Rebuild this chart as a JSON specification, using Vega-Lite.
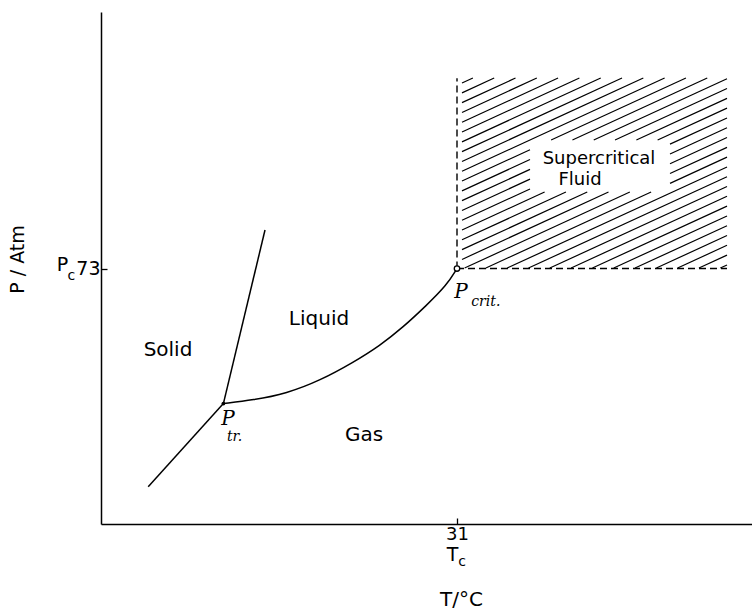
{
  "$schema": "https://vega.github.io/schema/vega-lite/v6.json",
  "width": 651,
  "height": 512,
  "autosize": {"type": "none"},
  "padding": {"left": 101, "top": 12, "right": 0, "bottom": 87},
  "background": "white",
  "config": {
    "view": {"stroke": null},
    "font": "DejaVu Sans",
    "axis": {
      "grid": false,
      "domainColor": "black",
      "domainWidth": 1.5,
      "tickColor": "black",
      "tickWidth": 1.3,
      "labelColor": "black",
      "titleColor": "black",
      "labelFont": "DejaVu Sans",
      "titleFont": "DejaVu Sans",
      "titleFontWeight": "normal"
    }
  },
  "datasets": {
    "hatch": [
      {"t1": 32.25, "p1": 126.0, "t2": 34.97, "p2": 127.43},
      {"t1": 32.25, "p1": 123.2, "t2": 40.29, "p2": 127.43},
      {"t1": 32.25, "p1": 120.4, "t2": 45.62, "p2": 127.43},
      {"t1": 32.25, "p1": 117.6, "t2": 50.95, "p2": 127.43},
      {"t1": 32.25, "p1": 114.8, "t2": 56.27, "p2": 127.43},
      {"t1": 32.25, "p1": 112.0, "t2": 61.6, "p2": 127.43},
      {"t1": 32.25, "p1": 109.2, "t2": 66.93, "p2": 127.43},
      {"t1": 32.25, "p1": 106.4, "t2": 72.25, "p2": 127.43},
      {"t1": 32.25, "p1": 103.6, "t2": 77.58, "p2": 127.43},
      {"t1": 32.25, "p1": 100.8, "t2": 82.9, "p2": 127.43},
      {"t1": 32.25, "p1": 98.0, "t2": 49.25, "p2": 106.94},
      {"t1": 54.53, "p1": 109.71, "t2": 88.23, "p2": 127.43},
      {"t1": 32.25, "p1": 95.2, "t2": 49.25, "p2": 104.14},
      {"t1": 59.86, "p1": 109.71, "t2": 93.56, "p2": 127.43},
      {"t1": 32.25, "p1": 92.4, "t2": 49.25, "p2": 101.34},
      {"t1": 65.19, "p1": 109.71, "t2": 98.5, "p2": 127.23},
      {"t1": 32.25, "p1": 89.6, "t2": 49.25, "p2": 98.54},
      {"t1": 70.51, "p1": 109.71, "t2": 98.5, "p2": 124.43},
      {"t1": 32.25, "p1": 86.8, "t2": 49.25, "p2": 95.74},
      {"t1": 75.84, "p1": 109.71, "t2": 98.5, "p2": 121.63},
      {"t1": 32.25, "p1": 84.0, "t2": 52.9, "p2": 94.86},
      {"t1": 81.16, "p1": 109.71, "t2": 98.5, "p2": 118.83},
      {"t1": 32.25, "p1": 81.2, "t2": 58.23, "p2": 94.86},
      {"t1": 84.25, "p1": 108.54, "t2": 98.5, "p2": 116.03},
      {"t1": 32.25, "p1": 78.4, "t2": 63.56, "p2": 94.86},
      {"t1": 84.25, "p1": 105.74, "t2": 98.5, "p2": 113.23},
      {"t1": 32.25, "p1": 75.6, "t2": 68.88, "p2": 94.86},
      {"t1": 84.25, "p1": 102.94, "t2": 98.5, "p2": 110.43},
      {"t1": 32.9, "p1": 73.14, "t2": 74.21, "p2": 94.86},
      {"t1": 84.25, "p1": 100.14, "t2": 98.5, "p2": 107.63},
      {"t1": 38.23, "p1": 73.14, "t2": 79.53, "p2": 94.86},
      {"t1": 84.25, "p1": 97.34, "t2": 98.5, "p2": 104.83},
      {"t1": 43.56, "p1": 73.14, "t2": 98.5, "p2": 102.03},
      {"t1": 48.88, "p1": 73.14, "t2": 98.5, "p2": 99.23},
      {"t1": 54.21, "p1": 73.14, "t2": 98.5, "p2": 96.43},
      {"t1": 59.53, "p1": 73.14, "t2": 98.5, "p2": 93.63},
      {"t1": 64.86, "p1": 73.14, "t2": 98.5, "p2": 90.83},
      {"t1": 70.19, "p1": 73.14, "t2": 98.5, "p2": 88.03},
      {"t1": 75.51, "p1": 73.14, "t2": 98.5, "p2": 85.23},
      {"t1": 80.84, "p1": 73.14, "t2": 98.5, "p2": 82.43},
      {"t1": 86.16, "p1": 73.14, "t2": 98.5, "p2": 79.63},
      {"t1": 91.49, "p1": 73.14, "t2": 98.5, "p2": 76.83},
      {"t1": 96.83, "p1": 73.14, "t2": 98.5, "p2": 74.03}
    ],
    "bounds": [
      {"t1": 31, "p1": 73, "t2": 31, "p2": 127.4},
      {"t1": 31, "p1": 73, "t2": 98.5, "p2": 73}
    ],
    "curves": [
      {"curve": "sublimation", "i": 0, "t": -46.2, "p": 10.66},
      {"curve": "sublimation", "i": 1, "t": -27.4, "p": 34.4},
      {"curve": "melting", "i": 0, "t": -27.4, "p": 34.4},
      {"curve": "melting", "i": 1, "t": -17, "p": 84},
      {"curve": "vaporization", "i": 0, "t": -27.4, "p": 34.4},
      {"curve": "vaporization", "i": 1, "t": -20, "p": 35.4},
      {"curve": "vaporization", "i": 2, "t": -11.6, "p": 37.3},
      {"curve": "vaporization", "i": 3, "t": -3.25, "p": 41.0},
      {"curve": "vaporization", "i": 4, "t": 5.1, "p": 46.2},
      {"curve": "vaporization", "i": 5, "t": 11.75, "p": 51.0},
      {"curve": "vaporization", "i": 6, "t": 17.5, "p": 56.2},
      {"curve": "vaporization", "i": 7, "t": 23.4, "p": 62.5},
      {"curve": "vaporization", "i": 8, "t": 28.4, "p": 68.2},
      {"curve": "vaporization", "i": 9, "t": 31, "p": 73}
    ],
    "points": [
      {"point": "triple", "t": -27.4, "p": 34.4},
      {"point": "critical", "t": 31, "p": 73}
    ],
    "labels": [
      {"kind": "region", "text": "Solid", "t": -41.25, "p": 49.7},
      {"kind": "region", "text": "Liquid", "t": -3.5, "p": 58.6},
      {"kind": "region", "text": "Gas", "t": 7.75, "p": 25.4},
      {"kind": "fluid", "text": "Supercritical", "t": 66.5, "p": 104.3},
      {"kind": "fluid", "text": "Fluid", "t": 61.75, "p": 98.3},
      {"kind": "script", "text": "P", "t": -26.25, "p": 29.9},
      {"kind": "scriptsub", "text": "tr.", "t": -24.6, "p": 25.0},
      {"kind": "script", "text": "P", "t": 32, "p": 66.3},
      {"kind": "scriptsub", "text": "crit.", "t": 38.2, "p": 63.5},
      {"kind": "symbol", "text": "P", "t": -67.6, "p": 74},
      {"kind": "sub", "text": "c", "t": -65.4, "p": 71.0},
      {"kind": "symbol", "text": "T", "t": 29.9, "p": -8.9},
      {"kind": "sub", "text": "c", "t": 32.25, "p": -10.9}
    ]
  },
  "layer": [
    {
      "data": {"name": "hatch"},
      "mark": {"type": "rule", "color": "black", "strokeWidth": 1.2},
      "encoding": {
        "x": {
          "field": "t1", "type": "quantitative",
          "scale": {"domain": [-58, 104.75], "nice": false, "zero": false},
          "axis": {
            "values": [31],
            "tickSize": -6,
            "labelFontSize": 18,
            "labelPadding": 7,
            "title": "T/°C",
            "titleFontSize": 20,
            "titleX": 360,
            "titleY": 75,
            "titleBaseline": "middle",
            "titleAlign": "center"
          }
        },
        "y": {
          "field": "p1", "type": "quantitative",
          "scale": {"domain": [0, 146.3], "nice": false, "zero": false},
          "axis": {
            "values": [73],
            "tickSize": -6,
            "labelFontSize": 19,
            "labelPadding": 7,
            "title": "P / Atm",
            "titleFontSize": 19,
            "titleAngle": -90,
            "titleX": -84,
            "titleY": 247,
            "titleBaseline": "middle",
            "titleAlign": "center"
          }
        },
        "x2": {"field": "t2"},
        "y2": {"field": "p2"}
      }
    },
    {
      "data": {"name": "bounds"},
      "mark": {"type": "rule", "color": "black", "strokeWidth": 1.4, "strokeDash": [7, 4]},
      "encoding": {
        "x": {"field": "t1", "type": "quantitative"},
        "y": {"field": "p1", "type": "quantitative"},
        "x2": {"field": "t2"},
        "y2": {"field": "p2"}
      }
    },
    {
      "data": {"name": "curves"},
      "mark": {"type": "line", "color": "black", "strokeWidth": 1.5, "interpolate": "basis"},
      "encoding": {
        "x": {"field": "t", "type": "quantitative"},
        "y": {"field": "p", "type": "quantitative"},
        "detail": {"field": "curve"},
        "order": {"field": "i"}
      }
    },
    {
      "data": {"name": "points"},
      "transform": [{"filter": "datum.point === 'critical'"}],
      "mark": {"type": "point", "shape": "circle", "size": 30, "filled": true, "fill": "white", "stroke": "black", "strokeWidth": 1.3, "opacity": 1},
      "encoding": {
        "x": {"field": "t", "type": "quantitative"},
        "y": {"field": "p", "type": "quantitative"}
      }
    },
    {
      "data": {"name": "points"},
      "transform": [{"filter": "datum.point === 'triple'"}],
      "mark": {"type": "point", "shape": "circle", "size": 14, "filled": true, "color": "black", "opacity": 1},
      "encoding": {
        "x": {"field": "t", "type": "quantitative"},
        "y": {"field": "p", "type": "quantitative"}
      }
    },
    {
      "data": {"name": "labels"},
      "transform": [{"filter": "datum.kind === 'region'"}],
      "mark": {"type": "text", "fontSize": 20, "color": "black", "align": "center", "baseline": "middle"},
      "encoding": {
        "x": {"field": "t", "type": "quantitative"},
        "y": {"field": "p", "type": "quantitative"},
        "text": {"field": "text"}
      }
    },
    {
      "data": {"name": "labels"},
      "transform": [{"filter": "datum.kind === 'fluid'"}],
      "mark": {"type": "text", "fontSize": 18, "color": "black", "align": "center", "baseline": "middle"},
      "encoding": {
        "x": {"field": "t", "type": "quantitative"},
        "y": {"field": "p", "type": "quantitative"},
        "text": {"field": "text"}
      }
    },
    {
      "data": {"name": "labels"},
      "transform": [{"filter": "datum.kind === 'script'"}],
      "mark": {"type": "text", "font": "DejaVu Serif", "fontStyle": "italic", "fontSize": 20, "color": "black", "align": "center", "baseline": "middle"},
      "encoding": {
        "x": {"field": "t", "type": "quantitative"},
        "y": {"field": "p", "type": "quantitative"},
        "text": {"field": "text"}
      }
    },
    {
      "data": {"name": "labels"},
      "transform": [{"filter": "datum.kind === 'scriptsub'"}],
      "mark": {"type": "text", "font": "DejaVu Serif", "fontStyle": "italic", "fontSize": 14, "color": "black", "align": "center", "baseline": "middle"},
      "encoding": {
        "x": {"field": "t", "type": "quantitative"},
        "y": {"field": "p", "type": "quantitative"},
        "text": {"field": "text"}
      }
    },
    {
      "data": {"name": "labels"},
      "transform": [{"filter": "datum.kind === 'symbol'"}],
      "mark": {"type": "text", "fontSize": 19, "color": "black", "align": "center", "baseline": "middle"},
      "encoding": {
        "x": {"field": "t", "type": "quantitative"},
        "y": {"field": "p", "type": "quantitative"},
        "text": {"field": "text"}
      }
    },
    {
      "data": {"name": "labels"},
      "transform": [{"filter": "datum.kind === 'sub'"}],
      "mark": {"type": "text", "fontSize": 14, "color": "black", "align": "center", "baseline": "middle"},
      "encoding": {
        "x": {"field": "t", "type": "quantitative"},
        "y": {"field": "p", "type": "quantitative"},
        "text": {"field": "text"}
      }
    }
  ]
}
